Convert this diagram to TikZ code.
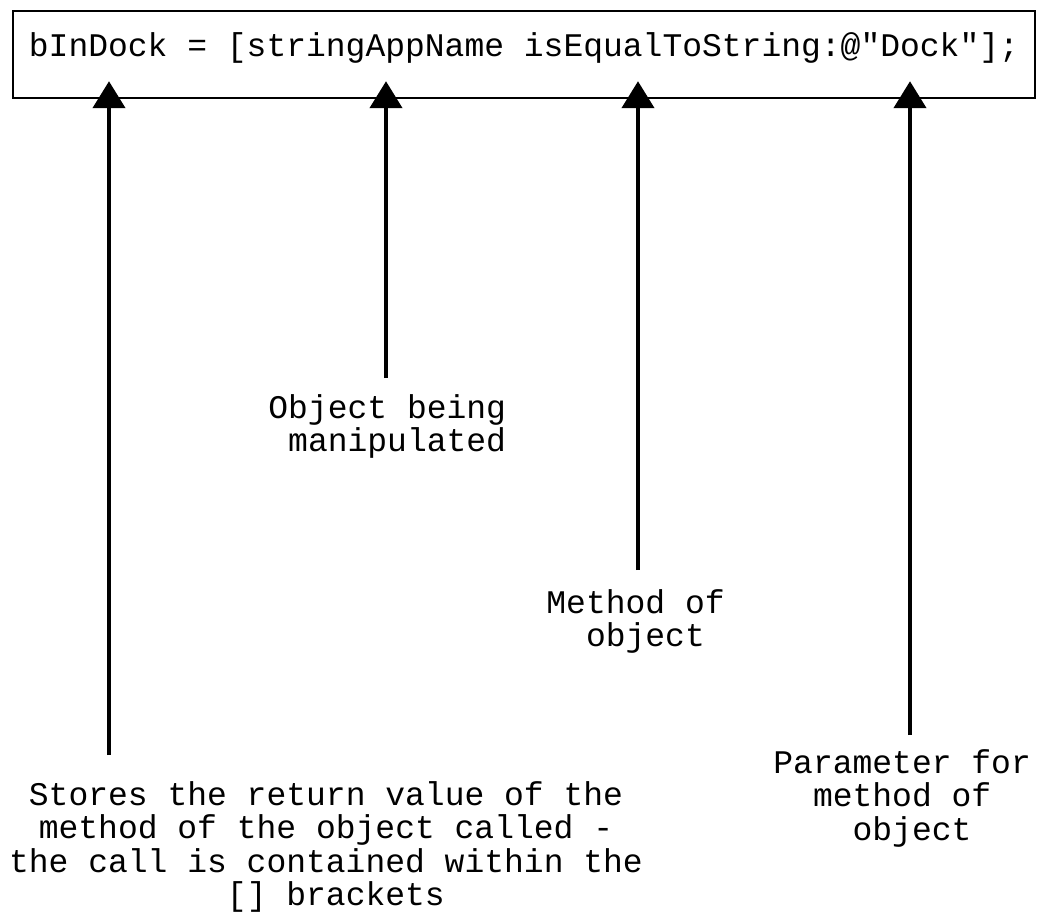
\documentclass[tikz,border=0pt]{standalone}
\usepackage{fontspec}
\setmonofont{Liberation Mono}
\usetikzlibrary{arrows.meta}

\tikzset{
  pointer/.style={line width=2.25bp, -{Triangle[length=13.5bp,width=16bp]}},
  codebox/.style={draw, line width=1.2bp, inner xsep=0pt, inner ysep=0pt,
    minimum width=511bp, text height=22.85bp, text depth=20.65bp},
  note/.style={inner sep=0pt},
}

\begin{document}
\begin{tikzpicture}[x=0.5bp, y=-0.5bp, font=\ttfamily\fontsize{16.5bp}{16.75bp}\selectfont]
    \useasboundingbox (0,0) rectangle (1038,918);

    % Code line
    \node[codebox] (code) at (524,54.5) {bInDock = [stringAppName isEqualToString:@"Dock"];};
    \coordinate (tipline) at ([yshift=9bp]code.south);

    % Labels (base = last line)
    \node[note, anchor=base west, align=left] (lblobject) at (268,451.5) {Object being\\\ manipulated};
    \node[note, anchor=base west, align=left] (lblmethod) at (546,646.5) {Method of\\\ \ object};
    \node[note, anchor=base west, align=left] (lblparam) at (773,840) {Parameter for\\\ \ method of\\\ \ \ \ object};
    \node[note, anchor=base, align=center] (lblstores) at (326,905.5) {Stores the return value of the\\method of the object called -\\the call is contained within the\\\ [] brackets};

    % Arrow tails
    \coordinate (tailstores) at (109,755);
    \coordinate (tailobject) at (386,378);
    \coordinate (tailmethod) at (638,570);
    \coordinate (tailparam) at (910,735);

    % Arrows
    \draw[pointer] (tailstores) -- (tailstores |- tipline);
    \draw[pointer] (tailobject) -- (tailobject |- tipline);
    \draw[pointer] (tailmethod) -- (tailmethod |- tipline);
    \draw[pointer] (tailparam) -- (tailparam |- tipline);
\end{tikzpicture}
\end{document}
